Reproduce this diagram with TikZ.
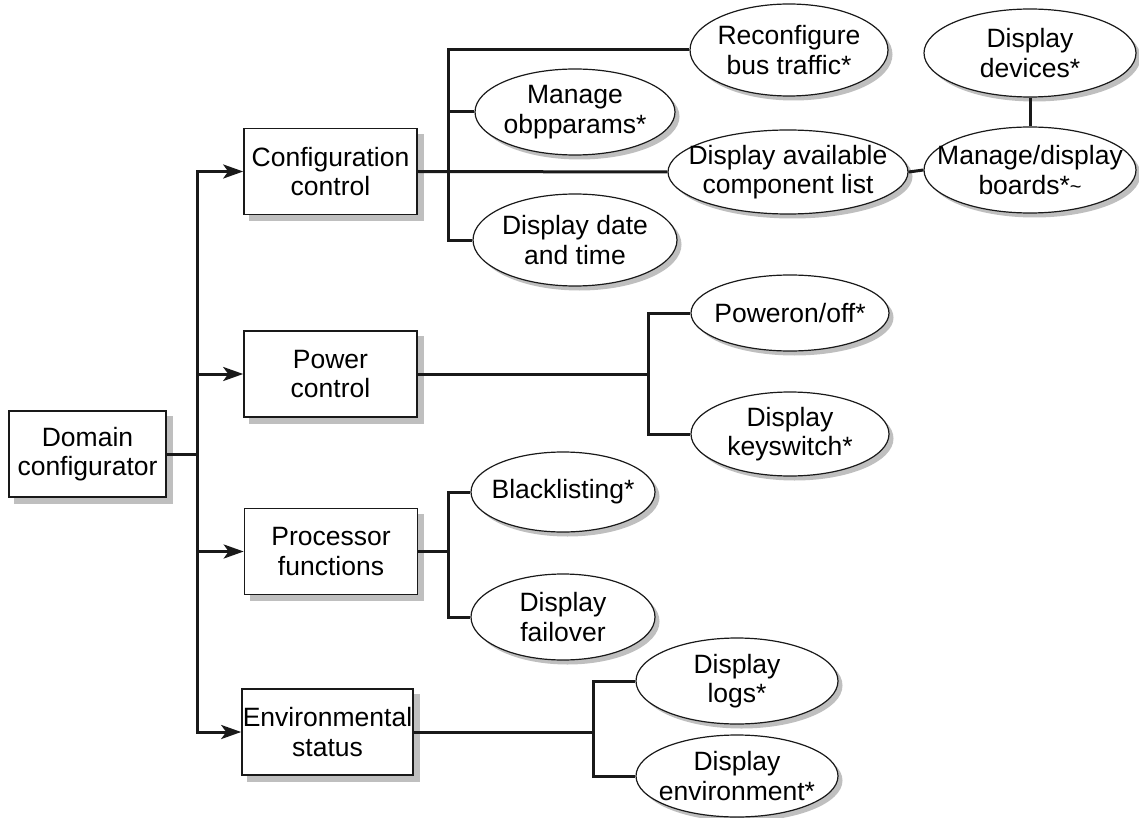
\documentclass[tikz,border=0pt]{standalone}
\usepackage{fontspec}
\setmainfont{Liberation Sans}
\usetikzlibrary{shapes.geometric,arrows.meta,backgrounds}
\begin{document}
\begin{tikzpicture}[x=1pt,y=-1pt,
  every node/.style={font=\fontsize{26.5}{29.5}\selectfont, align=center, text=black},
  boxnode/.style={draw=black!90, line width=1.6pt, fill=white, rectangle, inner sep=0pt,
     minimum width=173pt, minimum height=86pt},
  ellnode/.style={draw=black!90, line width=1.2pt, fill=white, ellipse, inner sep=0pt},
  shadowfill/.style={fill=black!25, draw=none},
  conn/.style={line width=3pt, draw=black!90},
  arr/.style={conn, -{Stealth[length=20pt,width=14pt,inset=5pt]}}
]
\useasboundingbox (0,0) rectangle (1139,818);

% boxes
\node[boxnode, minimum width=157pt] (dom) at (87.5,454) {Domain\\configurator};
\node[boxnode] (cfg) at (330.5,171.5) {Configuration\\control};
\node[boxnode] (pwr) at (330.5,374) {Power\\control};
\node[boxnode] (proc) at (331,551.5) {Processor\\functions};
\node[boxnode, minimum width=171pt] (env) at (327.5,732) {Environmental\\status};

% ellipses
\node[ellnode, minimum width=198pt, minimum height=92pt, label={center:{Reconfigure\\bus traffic*}}] (reconf) at (789,50) {};
\node[ellnode, minimum width=200pt, minimum height=86pt, label={center:{Manage\\obpparams*}}] (obp) at (575,112) {};
\node[ellnode, minimum width=240pt, minimum height=84pt, label={center:{Display available\\component list}}] (avail) at (788,172) {};
\node[ellnode, minimum width=204pt, minimum height=92pt, label={center:{Display date\\and time}}] (date) at (575,240) {};
\node[ellnode, minimum width=212pt, minimum height=88pt, label={center:{Display\\devices*}}] (devices) at (1030,53) {};
\node[ellnode, minimum width=212pt, minimum height=86pt, label={center:{Manage/display\\boards*\raisebox{1pt}{\fontsize{20}{20}\selectfont\char`\~}}}] (boards) at (1030,170) {};
\node[ellnode, minimum width=198pt, minimum height=76pt, label={center:{Poweron/off*}}] (on) at (790,313) {};
\node[ellnode, minimum width=198pt, minimum height=84pt, label={center:{Display\\keyswitch*}}] (keysw) at (790,434) {};
\node[ellnode, minimum width=184pt, minimum height=80pt, label={center:{Blacklisting*}}] (black) at (563,492) {};
\node[ellnode, minimum width=184pt, minimum height=86pt, label={center:{Display\\failover}}] (fail) at (563,617) {};
\node[ellnode, minimum width=202pt, minimum height=86pt, label={center:{Display\\logs*}}] (logs) at (737,681) {};
\node[ellnode, minimum width=202pt, minimum height=82pt, label={center:{Display\\environment*}}] (envd) at (737,776) {};

% shadows
\begin{scope}[on background layer]
  \foreach \n in {dom,cfg,pwr,proc,env}
    \fill[shadowfill] ([shift={(6,6)}]\n.south west) rectangle ([shift={(6,6)}]\n.north east);
  \foreach \n/\rx/\ry in {reconf/99/46, obp/100/43, avail/120/42, date/102/46, devices/106/44,
      boards/106/43, on/99/38, keysw/99/42, black/92/40, fail/92/43, logs/101/43, envd/101/41}
    \fill[shadowfill] ([shift={(4.5,4.5)}]\n.center) ellipse [x radius=\rx, y radius=\ry];
\end{scope}

% junctions
\coordinate (trunk) at (197,454);
\coordinate (cj) at (448,171.5);
\coordinate (pj) at (648,374);
\coordinate (prj) at (448,551.5);
\coordinate (ej) at (593,732);

% main trunk
\draw[conn] (dom.east) -- (trunk);
\draw[arr] (trunk) |- (cfg.west);
\draw[arr] (trunk) |- (pwr.west);
\draw[arr] (trunk) |- (proc.west);
\draw[arr] (trunk) |- (env.west);

% configuration control
\draw[conn] (cfg.east) -- (avail.west);
\draw[conn] (reconf.west) -| (cj) |- (date.west);
\draw[conn] (cj |- obp.west) -- (obp.west);
\draw[conn] (avail.east) -- (boards.west);
\draw[conn] (devices.south) -- (boards.north);

% power control
\draw[conn] (pwr.east) -- (pj);
\draw[conn] (on.west) -| (pj) |- (keysw.west);

% processor functions
\draw[conn] (proc.east) -- (prj);
\draw[conn] (black.west) -| (prj) |- (fail.west);

% environmental status
\draw[conn] (env.east) -- (ej);
\draw[conn] (logs.west) -| (ej) |- (envd.west);
\end{tikzpicture}
\end{document}
